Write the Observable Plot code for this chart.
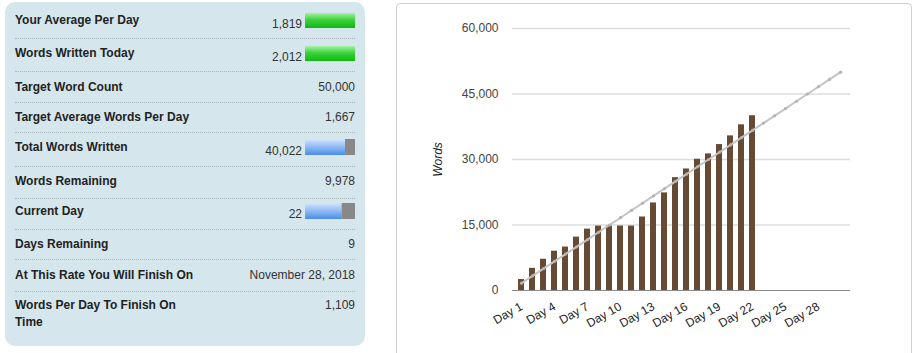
<!DOCTYPE html>
<html><head><meta charset="utf-8">
<script src="https://cdn.jsdelivr.net/npm/d3@7"></script>
<script src="https://cdn.jsdelivr.net/npm/@observablehq/plot@0.6"></script>
<style>
html,body{margin:0;padding:0;background:#fff;overflow:hidden;font-family:Arial,"Liberation Sans",sans-serif;}
#stats{position:absolute;left:5px;top:2px;width:360px;height:344px;background:#d6e6ed;border-radius:10px;}
.lbl{position:absolute;left:10px;width:182px;font-weight:bold;font-size:12px;color:#222;line-height:17px;}
.val{position:absolute;font-size:12px;color:#333;line-height:16px;text-align:right;white-space:nowrap;}
.sep{position:absolute;left:10px;width:340px;height:0;border-top:1px dotted #a9b6bb;}
.pbar{position:absolute;left:300px;line-height:0;}
#chartbox{position:absolute;left:396px;top:3px;width:514px;height:360px;border:1px solid #cfcfcf;border-radius:4px;background:#fff;}
#chartbox svg{display:block;}
g[aria-label="y-axis tick label"]{fill:#444;}
g[aria-label="x-axis tick label"]{fill:#222;}
g[aria-label="y-axis label"]{fill:#222;font-style:italic;}
</style>
</head><body>
<div id="stats"></div>
<div id="chartbox"></div>
<script>
// ---------- data: stats panel ----------
const statLabels = ["Your Average Per Day","Words Written Today","Target Word Count","Target Average Words Per Day","Total Words Written","Words Remaining","Current Day","Days Remaining","At This Rate You Will Finish On","Words Per Day To Finish On Time"];
const statValues = ["1,819","2,012","50,000","1,667","40,022","9,978","22","9","November 28, 2018","1,109"];
const progressValue = [1819, 2012, null, null, 40022, null, 22, null, null, null];
const progressTarget = [1667, 1667, null, null, 50000, null, 30, null, null, null];
const progressKind = ["green","green",null,null,"blue",null,"blue",null,null,null];

// ---------- data: chart ----------
const days = ["Day 1","Day 2","Day 3","Day 4","Day 5","Day 6","Day 7","Day 8","Day 9","Day 10","Day 11","Day 12","Day 13","Day 14","Day 15","Day 16","Day 17","Day 18","Day 19","Day 20","Day 21","Day 22","Day 23","Day 24","Day 25","Day 26","Day 27","Day 28","Day 29","Day 30"];
const wordsWritten = [2510,5080,7160,9000,9950,12220,14060,14750,14750,14760,14760,16830,20050,22350,25850,27830,30050,31280,33420,35410,37940,40022,0,0,0,0,0,0,0,0];
const targetWords = [1667,3333,5000,6667,8333,10000,11667,13333,15000,16667,18333,20000,21667,23333,25000,26667,28333,30000,31667,33333,35000,36667,38333,40000,41667,43333,45000,46667,48333,50000];
const xTickLabels = ["Day 1","Day 4","Day 7","Day 10","Day 13","Day 16","Day 19","Day 22","Day 25","Day 28"];
const yTickValues = [0,15000,30000,45000,60000];
const yTitle = "Words";

// ---------- layout of stats panel ----------
const labelTop = [10,43,77,107,137,171,201,234,265,295];
const valueTop = [13.5,47,77,107,141,171,204,234,265,295];
const barTop = [11,44,null,null,136.5,null,201,null,null,null];
const sepTop = [36,69,100,130,164,196,227,257,289];

const NS = "http://www.w3.org/2000/svg";
function gradientDefs(id, stops) {
  return () => {
    const defs = document.createElementNS(NS, "defs");
    const lg = document.createElementNS(NS, "linearGradient");
    lg.setAttribute("id", id);
    lg.setAttribute("x1", "0"); lg.setAttribute("y1", "0");
    lg.setAttribute("x2", "0"); lg.setAttribute("y2", "1");
    for (const [o, c] of stops) {
      const s = document.createElementNS(NS, "stop");
      s.setAttribute("offset", o); s.setAttribute("stop-color", c);
      lg.appendChild(s);
    }
    defs.appendChild(lg);
    return defs;
  };
}
const gradStops = {
  green: [["0%","#a6f2a6"],["45%","#3dd23d"],["100%","#0fb80f"]],
  blue: [["0%","#d2e6fd"],["100%","#4a8de8"]]
};

const stats = document.getElementById("stats");
statLabels.forEach((lab, i) => {
  const l = document.createElement("div");
  l.className = "lbl"; l.style.top = labelTop[i] + "px"; l.textContent = lab;
  stats.appendChild(l);
  const v = document.createElement("div");
  v.className = "val"; v.style.top = valueTop[i] + "px";
  v.style.right = (progressKind[i] ? 63 : 10) + "px";
  v.textContent = statValues[i];
  stats.appendChild(v);
  if (progressKind[i]) {
    const frac = Math.min(1, progressValue[i] / progressTarget[i]);
    const id = "grad" + i;
    const h = progressKind[i] === "green" ? 15 : 16;
    const p = Plot.plot({
      width: 50, height: h, margin: 0,
      x: {domain: [0, 1], axis: null},
      style: {background: "transparent"},
      marks: [
        gradientDefs(id, gradStops[progressKind[i]]),
        Plot.barX([{a: 0, b: frac}], {x1: "a", x2: "b", fill: `url(#${id})`}),
        Plot.barX([{a: frac, b: 1}], {x1: "a", x2: "b", fill: "#888888"})
      ]
    });
    const wrap = document.createElement("div");
    wrap.className = "pbar"; wrap.style.top = barTop[i] + "px";
    wrap.appendChild(p);
    stats.appendChild(wrap);
  }
});
sepTop.forEach(t => {
  const s = document.createElement("div");
  s.className = "sep"; s.style.top = t + "px";
  stats.appendChild(s);
});

// ---------- main chart ----------
const data = days.map((d, i) => ({day: d, words: wordsWritten[i], target: targetWords[i]}));
const chart = Plot.plot({
  width: 514, height: 349,
  marginLeft: 115, marginRight: 61, marginTop: 24, marginBottom: 63,
  style: {fontFamily: 'Arial,"Liberation Sans",sans-serif', fontSize: "12px", background: "transparent", overflow: "visible"},
  x: {domain: days, paddingInner: 0.44, paddingOuter: 0.22},
  y: {domain: [0, 60000]},
  marks: [
    Plot.ruleY(yTickValues.filter(v => v > 0), {stroke: "#dcdcdc", strokeWidth: 1.3}),
    Plot.ruleY([0], {stroke: "#8a8a8a", strokeWidth: 1}),
    Plot.barY(data, {x: "day", y: "words", fill: "#664a33"}),
    Plot.line(data, {x: "day", y: "target", stroke: "#c4c4c4", strokeWidth: 2}),
    Plot.dot(data, {x: "day", y: "target", r: 1.6, fill: "#b3b3b3"}),
    Plot.axisY({ticks: yTickValues, tickSize: 0, tickPadding: 14, tickFormat: d3.format(","), label: yTitle, labelArrow: "none", labelAnchor: "center", labelOffset: 79}),
    Plot.axisX({ticks: xTickLabels, tickSize: 0, tickPadding: 15, tickRotate: -30, label: null})
  ]
});
document.getElementById("chartbox").appendChild(chart);
</script>
</body></html>
